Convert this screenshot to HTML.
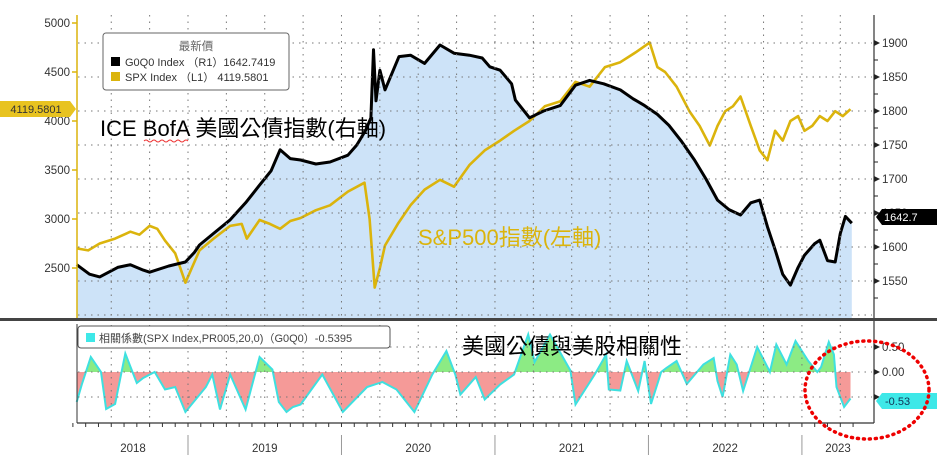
<!DOCTYPE html>
<html><head><meta charset="utf-8"><style>
body{margin:0;background:#fff;}
svg{display:block;font-family:"Liberation Sans","Noto Sans CJK TC",sans-serif;}
</style></head><body>
<svg id="chart" width="937" height="464" viewBox="0 0 937 464" xmlns="http://www.w3.org/2000/svg">
<g id="plot"></g>
<g id="grid"></g>
<g id="axes"></g>
<g id="labels"></g>
</svg>
<script>
// months since Jan 2018
const spxMonths=[3.3,4.2,5.1,6.3,7.5,8.2,9.0,9.6,10.2,11.0,11.8,12.3,12.9,14.0,15.3,16.2,16.6,17.6,18.4,19.2,20.0,20.8,22.0,23.1,24.5,25.8,26.2,26.6,27.0,27.4,28.4,29.4,30.5,31.7,32.8,34.0,35.2,36.4,37.5,38.7,39.9,41.1,42.3,43.4,44.6,45.8,47.0,48.1,48.7,49.3,50.2,51.2,52.0,52.8,53.4,54.0,54.6,55.2,56.0,56.7,57.3,57.9,58.5,59.1,59.7,60.2,60.8,61.4,62.0,62.6,63.2,63.8];
const spxValues=[2700,2680,2750,2800,2870,2840,2930,2900,2780,2650,2350,2500,2680,2800,2930,2950,2800,2990,2950,2900,2980,3010,3090,3140,3280,3370,3000,2300,2500,2730,2950,3140,3300,3400,3330,3550,3700,3800,3900,4000,4150,4200,4400,4350,4550,4600,4700,4800,4550,4500,4350,4100,3950,3750,3950,4100,4150,4250,3950,3700,3600,3900,3800,4000,4050,3900,3950,4050,4000,4100,4050,4120];
const bondMonths=[3.3,4.3,5.1,6.5,7.5,8.5,9.0,10.5,11.8,12.5,12.9,14.0,15.3,16.5,17.6,18.5,19.2,20.0,20.8,22.0,23.1,24.5,25.2,25.9,26.3,26.5,26.7,27.0,27.4,28.5,29.4,30.5,31.7,32.8,34.0,35.0,35.6,36.4,37.3,37.6,38.7,39.8,41.1,42.3,43.4,44.5,45.8,46.8,47.7,48.7,49.6,50.6,51.6,52.5,53.4,54.3,55.2,56.0,56.7,57.3,57.9,58.5,59.1,59.7,60.2,61.0,61.4,62.0,62.6,63.0,63.4,63.9];
const bondValues=[1574,1560,1556,1570,1574,1566,1563,1572,1578,1592,1603,1620,1640,1665,1691,1712,1743,1730,1728,1722,1725,1735,1750,1772,1790,1890,1815,1860,1831,1880,1882,1870,1897,1885,1882,1878,1865,1860,1840,1816,1790,1800,1808,1838,1845,1840,1831,1818,1808,1795,1779,1755,1728,1700,1669,1655,1647,1665,1669,1630,1596,1560,1544,1570,1588,1605,1610,1580,1578,1620,1645,1635];
const corrMonths=[3.3,3.7,4.4,5.2,5.6,6.3,7.1,8.0,8.5,9.4,10.2,11.0,11.8,13.4,13.9,14.5,15.3,16.5,17.6,18.6,19.1,19.7,20.2,20.8,22.5,24.1,26.0,27.2,28.3,29.7,31.1,32.2,32.9,33.3,34.5,35.2,36.4,37.5,38.6,39.1,40.3,41.9,42.3,43.8,44.7,44.9,45.8,46.3,47.2,47.7,48.2,49.0,49.4,50.2,51.0,52.3,53.1,53.4,53.8,54.4,54.9,55.4,56.5,57.5,58.0,58.8,59.5,60.5,61.2,61.5,62.1,62.5,62.7,63.3,63.8];
const corrValues=[-0.6,-0.25,0.3,0,-0.74,-0.64,0.37,-0.22,-0.12,0,-0.35,-0.3,-0.8,-0.3,-0.05,-0.75,-0.05,-0.75,0.3,0.05,-0.6,-0.8,-0.7,-0.65,-0.05,-0.8,-0.3,-0.2,-0.35,-0.8,-0.05,0.42,-0.05,-0.45,-0.1,-0.55,-0.25,-0.05,0.75,0.2,0.75,0.03,-0.65,-0.05,0.35,-0.35,-0.37,0.22,-0.38,0.22,-0.64,0,0.08,0.22,-0.24,0.15,0.28,-0.18,-0.5,0.35,0.15,-0.38,0.5,0,0.55,0.15,0.62,0.22,0,0.1,0.6,0.35,-0.3,-0.7,-0.53];
const leftTicks=[2500,3000,3500,4000,4500,5000];
const rightTicks=[1550,1600,1650,1700,1750,1800,1850,1900];
const corrTicks=[0.5,0,-0.5];
const yearLabels=["2018","2019","2020","2021","2022","2023"];

const NS="http://www.w3.org/2000/svg";
function mk(tag,attrs,parent,name){const e=document.createElementNS(NS,tag);for(const k in attrs)e.setAttribute(k,attrs[k]);


parent.appendChild(e);return e;}
const X=m=>188+(m-12)*12.79;
const YL=v=>268-(v-2500)*0.098;
const YR=v=>43+(1900-v)*0.68;
const YC=v=>372-v*50;
const grid=document.getElementById('grid'),plot=document.getElementById('plot'),axes=document.getElementById('axes'),labels=document.getElementById('labels');

for(let m=3;m<=63;m+=3){const x=X(m);if(x<80||x>870)continue;
mk('line',{x1:x,x2:x,y1:15,y2:318,stroke:'#777','stroke-dasharray':'1.5 5'},grid,'v-grid-top');
mk('line',{x1:x,x2:x,y1:325,y2:422,stroke:'#777','stroke-dasharray':'1.5 5'},grid,'v-grid-bottom');}
rightTicks.concat([1500]).forEach(v=>mk('line',{x1:78,x2:872,y1:YR(v),y2:YR(v),stroke:'#777','stroke-dasharray':'1.5 5'},grid,'h-grid'));
corrTicks.forEach(v=>mk('line',{x1:78,x2:872,y1:YC(v),y2:YC(v),stroke:'#777','stroke-dasharray':'1.5 5'},grid,'h-grid-corr'));

let pts=bondMonths.map((m,i)=>X(m).toFixed(1)+','+YR(bondValues[i]).toFixed(1));
mk('polygon',{points:X(bondMonths[0])+',318 '+pts.join(' ')+' '+X(bondMonths[bondMonths.length-1])+',318',fill:'#cde3f8'},plot,'bond-area');
mk('polyline',{points:spxMonths.map((m,i)=>X(m).toFixed(1)+','+YL(spxValues[i]).toFixed(1)).join(' '),fill:'none',stroke:'#dbb40c','stroke-width':2.6,'stroke-linejoin':'round'},plot,'spx-line');
mk('polyline',{points:pts.join(' '),fill:'none',stroke:'#000','stroke-width':3,'stroke-linejoin':'round'},plot,'bond-line');

const cp=corrMonths.map((m,i)=>[X(m),YC(corrValues[i])]);
const z=YC(0),x0=cp[0][0],x1=cp[cp.length-1][0];
const defs=mk('defs',{},plot,'defs');
const cl1=mk('clipPath',{id:'pos'},defs,'clip-pos');mk('rect',{x:0,y:0,width:937,height:z},cl1,'clip-rect');
const cl2=mk('clipPath',{id:'neg'},defs,'clip-neg');mk('rect',{x:0,y:z,width:937,height:100},cl2,'clip-rect');
const ap=x0+','+z+' '+cp.map(p=>p[0].toFixed(1)+','+p[1].toFixed(1)).join(' ')+' '+x1+','+z;
mk('polygon',{points:ap,fill:'#8ceb84','clip-path':'url(#pos)'},plot,'corr-positive-area');
mk('polygon',{points:ap,fill:'#f59a98','clip-path':'url(#neg)'},plot,'corr-negative-area');
mk('polyline',{points:cp.map(p=>p[0].toFixed(1)+','+p[1].toFixed(1)).join(' '),fill:'none',stroke:'#3ee0e0','stroke-width':2},plot,'corr-line');

mk('line',{x1:77,x2:77,y1:15,y2:318,stroke:'#dbb40c','stroke-width':1.5},axes,'left-axis');
mk('line',{x1:874,x2:874,y1:15,y2:423,stroke:'#333','stroke-width':1.2},axes,'right-axis');
mk('line',{x1:77,x2:77,y1:324,y2:423,stroke:'#333','stroke-width':1},axes,'lower-left-axis');
mk('rect',{x:0,y:318,width:937,height:3,fill:'#444'},axes,'panel-separator');
mk('line',{x1:77,x2:874,y1:423,y2:423,stroke:'#333','stroke-width':1.2},axes,'x-axis');
for(let m=3;m<=64;m++){const x=X(m);if(x>873)break;mk('line',{x1:x,x2:x,y1:423,y2:427,stroke:'#333'},axes,'x-tick');}
[12,24,36,48,60].forEach(m=>mk('line',{x1:X(m),x2:X(m),y1:435,y2:455,stroke:'#999'},axes,'year-divider'));
yearLabels.forEach((t,i)=>{const x=i==0?133:i==5?838:X(12*i+6);const e=mk('text',{x:x,y:452,'font-size':11.5,fill:'#333','text-anchor':'middle'},labels,'year-label');e.textContent=t;});
leftTicks.forEach(v=>{mk('line',{x1:72,x2:77,y1:YL(v),y2:YL(v),stroke:'#dbb40c','stroke-width':1.5},axes,'left-tick');const e=mk('text',{x:70,y:YL(v)+4,'font-size':11.5,fill:'#333','text-anchor':'end'},labels,'left-tick-label');e.textContent=v;});
rightTicks.forEach(v=>{mk('path',{d:`M874 ${YR(v)-3} L880 ${YR(v)} L874 ${YR(v)+3}Z`,fill:'#222'},axes,'right-tick');const e=mk('text',{x:882,y:YR(v)+4,'font-size':11.5,fill:'#333'},labels,'right-tick-label');e.textContent=v;});
for(let v=1525;v<1910;v+=50)mk('line',{x1:874,x2:878,y1:YR(v),y2:YR(v),stroke:'#222'},axes,'right-minor-tick');
corrTicks.forEach(v=>{mk('path',{d:`M874 ${YC(v)-3} L880 ${YC(v)} L874 ${YC(v)+3}Z`,fill:'#222'},axes,'corr-tick');if(v!==-0.5){const e=mk('text',{x:882,y:YC(v)+4,'font-size':11.5,fill:'#333'},labels,'corr-tick-label');e.textContent=v.toFixed(2);}});
</script>
<svg style="position:absolute;left:0;top:0" width="937" height="464" font-family="Liberation Sans, Noto Sans CJK TC, sans-serif">
<g>
<rect x="103" y="33" width="186" height="57" rx="3" fill="#fff" stroke="#666"/>
<text x="196" y="50" font-size="11.5" fill="#666" text-anchor="middle">最新價</text>
<rect x="111" y="57" width="9" height="9" fill="#000"/>
<text x="125" y="66" font-size="11" fill="#333">G0Q0 Index （R1）1642.7419</text>
<rect x="111" y="72" width="9" height="9" fill="#dbb40c"/>
<text x="125" y="81" font-size="11" fill="#333">SPX Index （L1）  4119.5801</text>
</g>
<g><path d="M0 101 H70 L76 109 L70 117 H0Z" fill="#e8c320"/><text x="36" y="113" font-size="11" fill="#333" text-anchor="middle">4119.5801</text></g>
<g><path d="M882 209 H937 V225 H882 L876 217Z" fill="#000"/><text x="884" y="221" font-size="11" fill="#fff">1642.7</text></g>
<g><path d="M882 393 H937 V409 H882 L876 401Z" fill="#3ee8e8"/><text x="885" y="405" font-size="11" fill="#135">-0.53</text></g>
<g>
<rect x="78" y="326" width="312" height="22" rx="3" fill="#fff" stroke="#555"/>
<rect x="86" y="333" width="9" height="9" fill="#3ee8e8"/>
<text x="99" y="342" font-size="11" fill="#444">相關係數(SPX Index,PR005,20,0)（G0Q0）-0.5395</text>
</g>
<text x="100" y="136" font-size="22" fill="#000">ICE BofA 美國公債指數(右軸)</text>
<path d="M144 141 q2 -2 4 0 t4 0 t4 0 t4 0 t4 0 t4 0 t4 0 t4 0 t4 0 t4 0 t4 0" fill="none" stroke="#e33" stroke-width="1"/>
<text x="418" y="245" font-size="22" fill="#dbb40c">S&amp;P500指數(左軸)</text>
<text x="462" y="354" font-size="22" fill="#000">美國公債與美股相關性</text>
<ellipse cx="867" cy="390" rx="62" ry="49" fill="none" stroke="#e00" stroke-width="3.5" stroke-dasharray="1 5" stroke-linecap="round"/>
</svg>
</body></html>
